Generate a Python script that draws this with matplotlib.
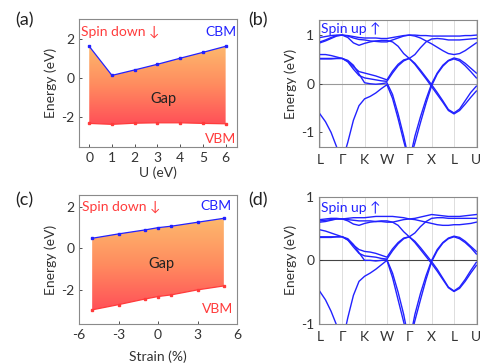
import numpy as np
import matplotlib
matplotlib.use('Agg')
import matplotlib.pyplot as plt
from matplotlib.colors import LinearSegmentedColormap

plt.rcParams['font.family'] = ['Lato', 'DejaVu Sans']
plt.rcParams['axes.unicode_minus'] = False

# ---------------- data ----------------
u_vals = [0, 1, 2, 3, 4, 5, 6]
cbm_u = [1.64, 0.15, 0.43, 0.72, 1.03, 1.33, 1.64]
vbm_u = [-2.31, -2.36, -2.30, -2.28, -2.28, -2.31, -2.33]

strain = [-5, -3, -1, 0, 1, 3, 5]
cbm_s = [0.48, 0.69, 0.88, 0.99, 1.06, 1.25, 1.44]
vbm_s = [-2.96, -2.71, -2.44, -2.32, -2.24, -2.00, -1.81]

kpath_labels = ['L', 'Γ', 'K', 'W', 'Γ', 'X', 'L', 'U']
k_grid = np.linspace(0, 7, 29)

# panel (b) bands, spin up (eV), sampled on k_grid
bands_b = [
    [-0.62, -0.78, -1.00, -1.30, -1.60, -1.20, -0.75, -0.45, -0.31, -0.26, -0.19, -0.10, -0.02,
     -0.30, -0.72, -1.18, -1.60, -1.22, -0.80, -0.40, -0.04, 0.20, 0.36, 0.47, 0.51, 0.47, 0.37, 0.25, 0.12],
    [0.52, 0.52, 0.52, 0.52, 0.52, 0.48, 0.38, 0.20, 0.02, 0.00, -0.01, 0.00, 0.02,
     -0.22, -0.62, -1.08, -1.60, -1.08, -0.68, -0.32, 0.00, 0.22, 0.38, 0.48, 0.53, 0.50, 0.42, 0.32, 0.22],
    [0.60, 0.60, 0.58, 0.55, 0.52, 0.46, 0.35, 0.25, 0.22, 0.19, 0.16, 0.12, 0.08,
     0.26, 0.40, 0.49, 0.52, 0.42, 0.28, 0.13, -0.02, -0.18, -0.35, -0.53, -0.60, -0.52, -0.35, -0.18, -0.05],
    [0.51, 0.51, 0.51, 0.52, 0.52, 0.45, 0.30, 0.17, 0.12, 0.10, 0.08, 0.06, 0.05,
     0.22, 0.37, 0.47, 0.52, 0.40, 0.25, 0.10, -0.06, -0.22, -0.38, -0.55, -0.62, -0.55, -0.42, -0.28, -0.15],
    [0.84, 0.88, 0.93, 0.98, 1.00, 0.95, 0.84, 0.79, 0.83, 0.86, 0.88, 0.89, 0.89,
     0.86, 0.77, 0.62, 0.52, 0.60, 0.74, 0.86, 0.92, 0.93, 0.92, 0.90, 0.90, 0.90, 0.91, 0.92, 0.93],
    [0.95, 0.97, 0.99, 1.00, 1.00, 0.99, 0.97, 0.95, 0.94, 0.94, 0.94, 0.93, 0.93,
     0.95, 0.97, 0.99, 1.00, 1.00, 0.99, 0.99, 0.98, 0.98, 0.98, 0.98, 0.98, 0.98, 0.99, 0.99, 1.00],
    [0.86, 0.90, 0.95, 0.99, 1.00, 0.98, 0.94, 0.91, 0.90, 0.88, 0.87, 0.86, 0.86,
     0.90, 0.94, 0.98, 1.00, 0.98, 0.94, 0.88, 0.82, 0.75, 0.68, 0.62, 0.60, 0.62, 0.68, 0.76, 0.84],
]

# panel (d) bands, spin up (eV), sampled on k_grid
bands_d = [
    [-0.49, -0.62, -0.80, -1.02, -1.30, -0.90, -0.55, -0.33, -0.25, -0.20, -0.14, -0.07, 0.00,
     -0.27, -0.62, -0.97, -1.30, -0.95, -0.62, -0.30, -0.02, 0.15, 0.27, 0.34, 0.37, 0.34, 0.28, 0.20, 0.10],
    [0.37, 0.37, 0.37, 0.37, 0.37, 0.34, 0.25, 0.12, 0.00, 0.00, -0.01, 0.00, 0.01,
     -0.20, -0.50, -0.85, -1.30, -0.85, -0.52, -0.24, 0.00, 0.17, 0.28, 0.35, 0.38, 0.36, 0.30, 0.22, 0.14],
    [0.48, 0.46, 0.43, 0.40, 0.37, 0.32, 0.24, 0.17, 0.14, 0.13, 0.11, 0.08, 0.05,
     0.18, 0.28, 0.35, 0.37, 0.30, 0.20, 0.09, -0.02, -0.14, -0.28, -0.42, -0.48, -0.42, -0.30, -0.16, -0.03],
    [0.36, 0.36, 0.36, 0.37, 0.37, 0.32, 0.21, 0.11, 0.07, 0.06, 0.05, 0.03, 0.02,
     0.15, 0.26, 0.34, 0.37, 0.28, 0.17, 0.06, -0.05, -0.17, -0.30, -0.43, -0.49, -0.44, -0.33, -0.20, -0.08],
    [0.60, 0.61, 0.63, 0.65, 0.65, 0.62, 0.57, 0.55, 0.58, 0.60, 0.61, 0.62, 0.62,
     0.60, 0.55, 0.45, 0.37, 0.43, 0.53, 0.61, 0.66, 0.67, 0.67, 0.66, 0.66, 0.66, 0.66, 0.66, 0.66],
    [0.64, 0.65, 0.66, 0.66, 0.65, 0.66, 0.67, 0.67, 0.67, 0.68, 0.69, 0.69, 0.69,
     0.69, 0.68, 0.67, 0.65, 0.66, 0.68, 0.70, 0.72, 0.71, 0.70, 0.69, 0.69, 0.69, 0.70, 0.71, 0.72],
    [0.62, 0.63, 0.64, 0.65, 0.65, 0.64, 0.63, 0.62, 0.62, 0.62, 0.61, 0.61, 0.60,
     0.60, 0.62, 0.64, 0.65, 0.64, 0.62, 0.60, 0.58, 0.56, 0.55, 0.55, 0.56, 0.56, 0.57, 0.58, 0.60],
]

# ---------------- style ----------------
BLUE = '#2222ff'
RED = '#ff3b3b'
TXT = '#333333'
SPINE = '#8a8a8a'
FS = 10
grad_cmap = LinearSegmentedColormap.from_list('gap', ['#ff5058', '#ff8c5f', '#fdb96d'])

fig = plt.figure(figsize=(4.8, 3.63), dpi=100)
W, H = 480.0, 363.0


def add_ax(l, t, r, b):
    return fig.add_axes([l / W, 1 - b / H, (r - l) / W, (b - t) / H])


def style(ax):
    for s in ax.spines.values():
        s.set_color(SPINE)
        s.set_linewidth(0.8)
    ax.tick_params(colors=TXT, labelsize=FS, length=2.5, width=0.6, direction='in')
    for lab in ax.get_xticklabels() + ax.get_yticklabels():
        lab.set_color(TXT)


def gap_panel(ax, x, top, bot, xlim, ylim, xticks, yticks):
    x = np.asarray(x, float)
    top = np.asarray(top, float)
    bot = np.asarray(bot, float)
    verts = np.vstack([np.column_stack([x, top]), np.column_stack([x[::-1], bot[::-1]])])
    poly = plt.Polygon(verts, closed=True, facecolor='none', edgecolor='none')
    ax.add_patch(poly)
    grad = np.linspace(0, 1, 256).reshape(-1, 1)
    im = ax.imshow(grad, extent=[x.min(), x.max(), bot.min(), top.max()], origin='lower',
                   cmap=grad_cmap, aspect='auto', zorder=1, interpolation='bilinear')
    im.set_clip_path(poly)
    ax.plot(x, top, color=BLUE, lw=0.9, marker='s', ms=2.0, zorder=3)
    ax.plot(x, bot, color=RED, lw=0.9, marker='s', ms=2.0, zorder=3)
    ax.set_xlim(*xlim)
    ax.set_ylim(*ylim)
    ax.set_xticks(xticks)
    ax.set_yticks(yticks)
    ax.set_ylabel('Energy (eV)', fontsize=FS, color=TXT, labelpad=3)
    style(ax)


def band_panel(ax, bands, ylim, zero_color):
    for kx in range(len(kpath_labels)):
        ax.axvline(kx, color='#dddddd', lw=0.7, zorder=0)
    ax.axhline(0, color=zero_color, lw=0.8, zorder=1)
    for b in bands:
        ax.plot(k_grid, b, color=BLUE, lw=1.0, zorder=2)
    ax.set_xlim(-0.04, 7.03)
    ax.set_ylim(*ylim)
    ax.set_xticks(range(len(kpath_labels)))
    ax.set_xticklabels(kpath_labels)
    ax.set_yticks([-1, 0, 1])
    ax.set_ylabel('Energy (eV)', fontsize=FS, color=TXT, labelpad=3)
    style(ax)
    ax.tick_params(axis='x', length=0, pad=5)
    ax.text(0.012, 0.93, 'Spin up ↑', transform=ax.transAxes, color=BLUE, fontsize=FS,
            ha='left', va='center')


# (a)
axa = add_ax(79, 19, 237, 147)
gap_panel(axa, u_vals, cbm_u, vbm_u, (-0.45, 6.5), (-3.52, 3.04), range(0, 7), [-2, 0, 2])
axa.set_xlabel('U (eV)', fontsize=FS, color=TXT, labelpad=2)
axa.text(0.013, 0.898, 'Spin down ↓', transform=axa.transAxes, color=RED, fontsize=FS, ha='left', va='center')
axa.text(0.994, 0.898, 'CBM', transform=axa.transAxes, color=BLUE, fontsize=FS, ha='right', va='center')
axa.text(0.994, 0.062, 'VBM', transform=axa.transAxes, color=RED, fontsize=FS, ha='right', va='center')
axa.text(3.28, -1.06, 'Gap', color='#222222', fontsize=FS + 0.5, ha='center', va='center', zorder=4)

# (c)
axc = add_ax(79, 195, 237, 324)
gap_panel(axc, strain, cbm_s, vbm_s, (-6, 6), (-3.64, 2.56), [-6, -3, 0, 3, 6], [-2, 0, 2])
axc.set_xlabel('Strain (%)', fontsize=FS, color=TXT, labelpad=7)
axc.text(0.019, 0.911, 'Spin down ↓', transform=axc.transAxes, color=RED, fontsize=FS, ha='left', va='center')
axc.text(0.968, 0.915, 'CBM', transform=axc.transAxes, color=BLUE, fontsize=FS, ha='right', va='center')
axc.text(0.975, 0.116, 'VBM', transform=axc.transAxes, color=RED, fontsize=FS, ha='right', va='center')
axc.text(0.23, -0.75, 'Gap', color='#222222', fontsize=FS + 0.5, ha='center', va='center', zorder=4)

# (b)
axb = add_ax(319, 20, 477, 147)
band_panel(axb, bands_b, (-1.3, 1.31), '#999999')

# (d)
axd = add_ax(319, 196.7, 477, 324)
band_panel(axd, bands_d, (-1.0, 1.0), '#444444')
axd.texts[0].set_position((0.013, 0.915))

for lab, (px, py) in zip(['(a)', '(b)', '(c)', '(d)'], [(24, 20), (258, 20), (24, 200), (258, 200)]):
    fig.text(px / W, 1 - py / H, lab, fontsize=13, color='#222222', ha='center', va='center')

fig.savefig('out.png', dpi=100)
